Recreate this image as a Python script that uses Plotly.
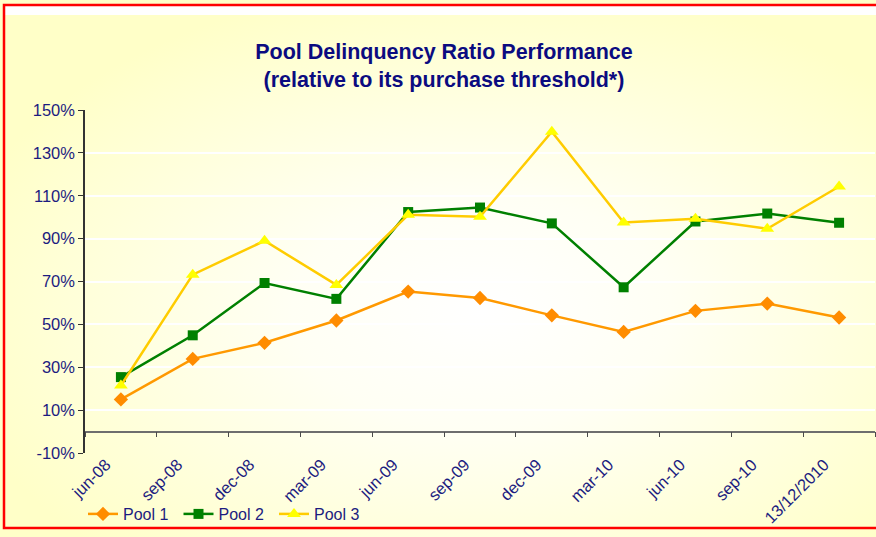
import plotly.graph_objects as go
import urllib.parse

categories = ["jun-08", "sep-08", "dec-08", "mar-09", "jun-09", "sep-09",
              "dec-09", "mar-10", "jun-10", "sep-10", "13/12/2010"]
pool1 = [15.0, 33.9, 41.4, 51.8, 65.3, 62.3, 54.2, 46.5, 56.3, 59.7, 53.2]
pool2 = [25.4, 44.9, 69.3, 61.9, 102.4, 104.5, 97.1, 67.3, 98.0, 101.7, 97.4]
pool3 = [21.5, 73.2, 89.0, 68.4, 101.1, 100.2, 139.9, 97.5, 99.3, 94.6, 114.3]
series_names = ["Pool 1", "Pool 2", "Pool 3"]
y_ticks = [-10, 10, 30, 50, 70, 90, 110, 130, 150]
y_tick_text = [f"{v}%" for v in y_ticks]

W, H = 876, 537
ML, MR, MT, MB = 85, 1, 110, 84
PW, PH = W - ML - MR, H - MT - MB

def px_x(px):
    return (px - ML) / PW

def px_y(py):
    return (H - MB - py) / PH

NAVY = "#1C1C80"
FONT = "Liberation Sans, Arial, sans-serif"

fig = go.Figure()

styles = [
    dict(line=dict(color="#FF9900", width=2.5),
         marker=dict(symbol="diamond", size=11, color="#FF8C00")),
    dict(line=dict(color="#008000", width=2.5),
         marker=dict(symbol="square", size=10, color="#008000")),
    dict(line=dict(color="#FFCC00", width=2.5),
         marker=dict(symbol="triangle-up", size=12, color="#FFFF00")),
]
for name, vals, st in zip(series_names, [pool1, pool2, pool3], styles):
    fig.add_trace(go.Scatter(x=categories, y=vals, name=name, mode="lines+markers",
                             line=st["line"], marker=st["marker"],
                             hovertemplate="%{x}: %{y}%<extra>" + name + "</extra>"))

# invisible trace to carry the category axis drawn at the 0% line
fig.add_trace(go.Scatter(x=categories, y=pool1, xaxis="x2", mode="lines",
                         line=dict(width=0), opacity=0, showlegend=False,
                         hoverinfo="skip"))

# background gradient via SVG
svg = ('<svg xmlns="http://www.w3.org/2000/svg" width="876" height="537" '
       'viewBox="0 0 876 537" preserveAspectRatio="none">'
       '<defs><radialGradient id="g" cx="0.55" cy="0.58" r="0.62">'
       '<stop offset="0" stop-color="#FFFFFF"/>'
       '<stop offset="0.35" stop-color="#FFFFF4"/>'
       '<stop offset="1" stop-color="#FFFFC8"/></radialGradient></defs>'
       '<rect width="876" height="537" fill="url(#g)"/></svg>')
src = "data:image/svg+xml;charset=utf-8," + urllib.parse.quote(svg)

fig.update_layout(
    width=W, height=H,
    margin=dict(l=ML, r=MR, t=MT, b=MB, autoexpand=False),
    paper_bgcolor="#FFFFCC",
    plot_bgcolor="rgba(0,0,0,0)",
    font=dict(family=FONT, color=NAVY, size=16),
    title=dict(text="<b>Pool Delinquency Ratio Performance<br>(relative to its purchase threshold*)</b>",
               x=444 / W, xanchor="center", y=1 - 59 / H, yanchor="middle",
               font=dict(family=FONT, size=21.5, color="#0B0B80")),
    images=[dict(source=src, xref="paper", yref="paper",
                 x=px_x(0), y=px_y(0), sizex=px_x(W) - px_x(0), sizey=px_y(0) - px_y(H),
                 xanchor="left", yanchor="top", sizing="stretch", layer="below")],
    xaxis=dict(type="category", categoryorder="array", categoryarray=categories,
               range=[-0.5, len(categories) - 0.5], automargin=False,
               showline=False, showgrid=False, zeroline=False, ticks="",
               tickangle=-45, ticklabelshift=-15, ticklabelstandoff=-2,
               tickfont=dict(size=16.5, color=NAVY, family=FONT)),
    xaxis2=dict(type="category", categoryorder="array", categoryarray=categories,
                range=[-0.5, len(categories) - 0.5], automargin=False,
                overlaying="x", anchor="free", position=(0 - (-10)) / 160,
                side="bottom",
                showline=True, linecolor="#6E6E6E", linewidth=1.5,
                ticks="outside", ticklen=5, tickcolor="#4A4A4A", tickwidth=1.2,
                tickson="boundaries", showticklabels=False, showgrid=False,
                zeroline=False),
    yaxis=dict(range=[-10, 150], tickvals=y_ticks, ticktext=y_tick_text,
               automargin=False,
               showgrid=True, gridcolor="#FFFFFF", gridwidth=1.5,
               zeroline=False, showline=True, linecolor="#333333", linewidth=1.5,
               ticks="outside", ticklen=5, tickcolor="#333333",
               tickfont=dict(size=16.5, color=NAVY, family=FONT)),
    legend=dict(orientation="h", x=px_x(83), xanchor="left",
                y=px_y(514), yanchor="middle", bgcolor="rgba(0,0,0,0)",
                font=dict(size=16, color=NAVY, family=FONT),
                entrywidth=50.5, itemwidth=30, tracegroupgap=0),
    shapes=[
        dict(type="rect", xref="paper", yref="paper",
             x0=px_x(5), x1=px_x(W + 5), y0=px_y(15), y1=px_y(6),
             fillcolor="#FFFFFF", line=dict(width=0), layer="below"),
        dict(type="rect", xref="paper", yref="paper",
             x0=px_x(4), x1=px_x(W + 10), y0=px_y(528), y1=px_y(5),
             fillcolor="rgba(0,0,0,0)", line=dict(color="#FF0000", width=2.5),
             layer="above"),
    ],
    hovermode="closest",
)

fig.write_html("out.html",
               config={"displayModeBar": False},
               post_script="document.body.style.margin='0px';document.body.style.overflow='hidden';")
